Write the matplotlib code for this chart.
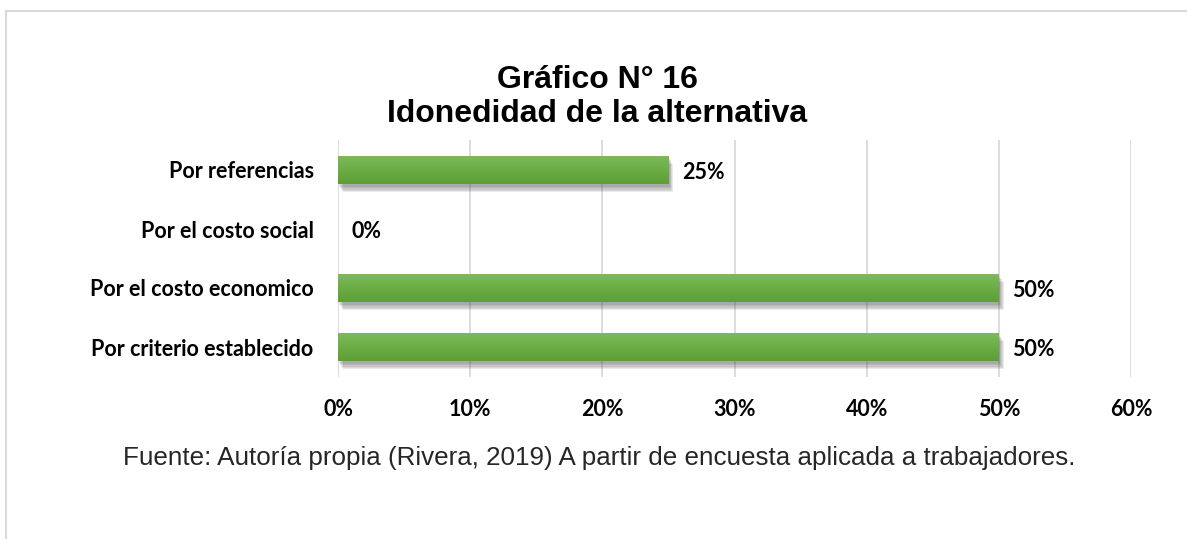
import matplotlib
matplotlib.use("Agg")
import numpy as np
import matplotlib.pyplot as plt
import matplotlib.patheffects as pe
from matplotlib.colors import LinearSegmentedColormap
from matplotlib.lines import Line2D
from matplotlib.ticker import FuncFormatter

# data
categorias = ["Por criterio establecido", "Por el costo economico",
              "Por el costo social", "Por referencias"]
porcentajes = [50, 50, 0, 25]
ticks_x = [0, 10, 20, 30, 40, 50, 60]

titulo = "Gráfico N° 16\nIdonedidad de la alternativa"
fuente = "Fuente: Autoría propia (Rivera, 2019) A partir de encuesta aplicada a trabajadores."

verde = "#6aad45"
gris_grid = "#d9d9d9"
lbl_font = ["Lato", "DejaVu Sans"]
txt_font = ["Liberation Sans", "DejaVu Sans"]

fig = plt.figure(figsize=(11.87, 5.39), dpi=100)

# gray frame (top and left only)
ytop = 1 - 11 / 539
xleft = 6 / 1187
fig.add_artist(Line2D([xleft, 1], [ytop, ytop], transform=fig.transFigure,
                      color=gris_grid, linewidth=1.5))
fig.add_artist(Line2D([xleft, xleft], [0, ytop], transform=fig.transFigure,
                      color=gris_grid, linewidth=1.5))

ax = fig.add_axes([338 / 1187, 1 - 376.5 / 539, 793 / 1187, 236 / 539])

alto = 0.48
y = np.arange(len(categorias))
bars = ax.barh(y, porcentajes, height=alto, color=verde, zorder=3)

# soft shadow under the bars
sombras = [pe.SimplePatchShadow(offset=(1 + k * 0.6, -2 - k), shadow_rgbFace="#444444", alpha=0.11)
           for k in range(5)]
grad = LinearSegmentedColormap.from_list("g", ["#5d9e37", "#6cae46", "#7fba5d"])
gradiente = np.linspace(0, 1, 64).reshape(-1, 1)
for b, yi, v in zip(bars, y, porcentajes):
    if v <= 0:
        continue
    b.set_path_effects(sombras + [pe.Normal()])
    im = ax.imshow(gradiente, cmap=grad, aspect="auto", origin="lower",
                   extent=(0, v, yi - alto / 2, yi + alto / 2), zorder=4)
    im.set_clip_path(b)

for yi, v in zip(y, porcentajes):
    ax.text(v + 1.0, yi - 0.04, f"{v}%", va="center", ha="left", fontsize=15.5,
            fontweight="bold", family=lbl_font, color="#000000", zorder=5)

ax.set_xlim(0, 60)
ax.set_ylim(-0.5, len(categorias) - 0.5)
ax.set_xticks(ticks_x)
ax.xaxis.set_major_formatter(FuncFormatter(lambda v, p: f"{int(v)}%"))
ax.set_yticks(list(y))
ax.set_yticklabels(categorias)
for lab in ax.get_xticklabels() + ax.get_yticklabels():
    lab.set_fontweight("bold")
    lab.set_family(lbl_font)
    lab.set_fontsize(15.5)
ax.tick_params(axis="both", length=0)
ax.tick_params(axis="y", pad=17.5)
ax.tick_params(axis="x", pad=16.5)
ax.grid(axis="x", color=gris_grid, linewidth=1.3, zorder=0)
for s in ax.spines.values():
    s.set_visible(False)

fig.text(597 / 1187, 1 - 97 / 539, titulo, ha="center", va="center",
         fontsize=23, fontweight="bold", family=txt_font, linespacing=1.2)
fig.text(599 / 1187, 1 - 458 / 539, fuente, ha="center", va="center",
         fontsize=18.7, family=txt_font, color="#262626")

fig.savefig("out.png", dpi=100)
